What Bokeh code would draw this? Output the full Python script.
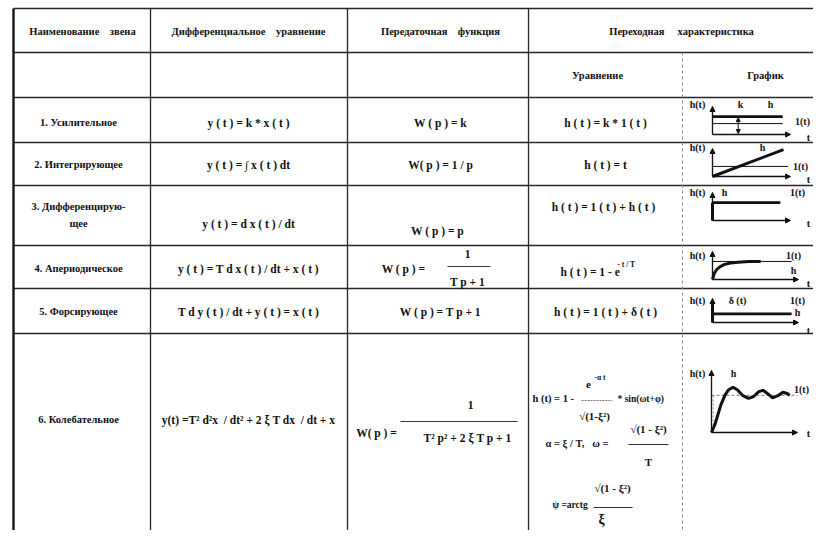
from bokeh.plotting import figure
from bokeh.models import Range1d, Arrow, NormalHead
from bokeh.core.properties import value
from bokeh.embed import file_html
from bokeh.resources import INLINE

NB = "\u00a0"
# ---------------- data (texts and sketch values) ----------------
headers = ["Наименование" + NB * 4 + "звена", "Дифференциальное" + NB * 4 + "уравнение",
           "Передаточная" + NB * 4 + "функция", "Переходная" + NB * 5 + "характеристика"]
subheaders = ["Уравнение", "График"]
link_names = ["1. Усилительное", "2. Интегрирующее", "3. Дифференцирую-", "щее",
              "4. Апериодическое", "5. Форсирующее", "6. Колебательное"]
diff_eqs = ["y ( t ) = k * x ( t )", "y ( t ) = ∫ x ( t ) dt", "y ( t ) = d x ( t ) / dt",
            "y ( t ) = T d x ( t ) / dt + x ( t )", "T d y ( t ) / dt + y ( t ) = x ( t )",
            "y(t) =T² d²x " + NB + "/ dt² + 2 ξ T dx " + NB + "/ dt + x"]
transfer_simple = ["W ( p ) = k", "W( p ) = 1 / p", "W ( p ) = p", "W ( p ) = T p + 1"]
transfer_frac_lhs = ["W ( p ) =", "W( p ) ="]
transfer_frac_num = ["1", "1"]
transfer_frac_den = ["T p + 1", "T² p² + 2 ξ T p + 1"]
step_eqs = ["h ( t ) = k * 1 ( t )", "h ( t ) = t", "h ( t ) = 1 ( t ) + h ( t )",
            "h ( t ) = 1 ( t ) + δ ( t )"]
aper_eq = ["h ( t ) = 1 - e", "- t / T"]
osc_eq = ["e", "-α t", "h (t) = 1 -", "* sin(ωt+φ)", "√(1-ξ²)",
          "α = ξ / T," + NB * 3 + "ω =", "√(1 - ξ²)", "T", "√(1 - ξ²)", "ψ =arctg", "ξ"]

# sketch values (graph units: t along the time axis, h up the axis)
amp_t = [0.0, 0.9];   amp_h = [0.64, 0.64];   amp_one = [0.39, 0.39]
int_t = [0.0, 0.91];  int_h = [0.0, 0.96];    int_one_t = [0.0, 0.97]; int_one = [0.36, 0.36]
dif_t = [0.0, 0.87];  dif_h = [0.64, 0.64];   dif_imp = [0.0, 0.64]
aper_t = [0.0, 0.02, 0.05, 0.09, 0.14, 0.21, 0.30, 0.42, 0.56]
aper_h = [0.0, 0.22, 0.36, 0.46, 0.54, 0.59, 0.62, 0.64, 0.645]
aper_one_t = [0.0, 0.92]; aper_one = [0.645, 0.645]
frc_t = [0.0, 0.92];  frc_h = [0.36, 0.36];   frc_imp = [0.0, 0.78]
osc_t = [0, .04, .075, .11, .16, .2, .25, .3, .36, .43, .49, .55, .6, .65, .71, .78, .83, .88, .91]
osc_h = [0, .13, .29, .45, .61, .69, .73, .69, .6, .55, .58, .66, .68, .63, .56, .6, .65, .63, .6]
osc_one_t = [0.0, 1.0]; osc_one = [0.6, 0.6]

# ---------------- layout ----------------
FONT = value("Liberation Serif")
INK = "#111111"
col_x = [13, 150, 347, 528, 829]
sub_x = 682
row_y = [8, 52, 97, 142, 185, 245, 288, 333, 542]
col_c = [78, 248, 438, 605, 765]

p = figure(width=813, height=530, x_range=Range1d(0, 813), y_range=Range1d(530, 0),
           output_backend="svg", toolbar_location=None, min_border=0,
           x_axis_location=None, y_axis_location=None, outline_line_color=None,
           background_fill_color="white", border_fill_color="white")
p.grid.visible = False


def txt(xs, ys, texts, size="11px", align="center", color=INK):
    p.text(x=xs, y=ys, text=texts, text_font=FONT, text_font_size=size,
           text_font_style="bold", text_align=align, text_baseline="middle",
           text_color=color)


def seg(x0, y0, x1, y1, w=1.0, color="#222222", dash="solid"):
    p.segment(x0=x0, y0=y0, x1=x1, y1=y1, line_width=w, line_color=color, line_dash=dash)


# ---- table grid ----
seg([col_x[0]] * 8, row_y[:-1], [829] * 8, row_y[:-1], w=1.4, color="#262626")
seg([13], [8], [13], [542], w=2.4, color="#161616")
seg(col_x[1:4], [8] * 3, col_x[1:4], [542] * 3, w=1.3, color="#262626")
seg([sub_x], [52], [sub_x], [542], w=1.0, color="#8a8a8a", dash="3 3")

# ---- headers ----
txt([82, 248, 440, 681], [31] * 4, headers, size="10.5px")
txt([597, 765], [75, 75], subheaders, size="10.5px")

# ---- names column ----
txt([col_c[0]] * 7, [122, 164, 206, 223, 268, 311, 419], link_names, size="10.5px")

# ---- differential equations ----
txt([col_c[1]] * 6, [122, 164, 223, 268, 311, 419], diff_eqs, size="11.5px")

# ---- transfer functions ----
txt([440, 440, 437, 440], [122, 164, 230, 311], transfer_simple, size="11.5px")
txt([403, 376], [268, 432], transfer_frac_lhs, size="11.5px")
txt([467, 470], [253, 404], transfer_frac_num, size="11.5px")
txt([467, 467], [281, 437], transfer_frac_den, size="11.5px")
seg([447, 400], [266, 421], [490, 517], [266, 421], w=1.0, color="#333333")

# ---- step response equations ----
txt([605, 605, 603, 605], [122, 164, 206, 311], step_eqs, size="11.5px")
txt([560], [271], [aper_eq[0]], size="11.5px", align="left")
txt([617], [264], [aper_eq[1]], size="7.5px", align="left")
txt([588], [384], [osc_eq[0]], size="11px")
txt([594], [377], [osc_eq[1]], size="7.5px", align="left")
txt([532], [398], [osc_eq[2]], size="10.5px", align="left")
txt([617], [398], [osc_eq[3]], size="9.5px", align="left")
seg([581], [400], [612], [400], w=0.8, color="#555555", dash="2 1")
txt([594], [415], [osc_eq[4]], size="11px")
txt([545], [443], [osc_eq[5]], size="10.5px", align="left")
txt([648], [428], [osc_eq[6]], size="11px")
seg([628], [444], [668], [444], w=1.0, color="#333333")
txt([648], [461], [osc_eq[7]], size="11px")
txt([612], [487], [osc_eq[8]], size="11px")
txt([552], [504], [osc_eq[9]], size="9.5px", align="left")
seg([593], [507], [632], [507], w=1.0, color="#333333")
txt([601], [519], [osc_eq[10]], size="14px")

# ---- step response sketches ----
G = [dict(ox=712, oy=134, L=78, H=28), dict(ox=712, oy=176, L=78, H=28),
     dict(ox=712, oy=220, L=78, H=28), dict(ox=712, oy=279, L=86, H=28),
     dict(ox=712, oy=322, L=86, H=24), dict(ox=711, oy=432, L=86, H=62)]


def gx(g, ts):
    return [g["ox"] + t * g["L"] for t in ts]


def gy(g, hs):
    return [g["oy"] - h * g["H"] for h in hs]


def axes(g):
    for (x1, y1) in [(g["ox"] + g["L"], g["oy"]), (g["ox"], g["oy"] - g["H"])]:
        p.add_layout(Arrow(end=NormalHead(size=5, line_color=INK, fill_color=INK),
                           x_start=g["ox"], y_start=g["oy"], x_end=x1, y_end=y1,
                           line_color=INK, line_width=1.3))


for g in G:
    axes(g)

# 1 amplifying
g = G[0]
p.line(gx(g, amp_t), gy(g, amp_h), line_width=2.6, line_color=INK)
p.line(gx(g, amp_t), gy(g, amp_one), line_width=1.0, line_color=INK)
p.add_layout(Arrow(start=NormalHead(size=4, line_color=INK, fill_color=INK),
                   end=NormalHead(size=4, line_color=INK, fill_color=INK),
                   x_start=gx(g, [0.33])[0], y_start=gy(g, [amp_h[0]])[0] + 1,
                   x_end=gx(g, [0.33])[0], y_end=g["oy"] - 1,
                   line_color=INK, line_width=1.0))
# 2 integrating
g = G[1]
p.line(gx(g, int_one_t), gy(g, int_one), line_width=1.0, line_color=INK)
p.line(gx(g, int_t), gy(g, int_h), line_width=3.0, line_color=INK)
# 3 differentiating
g = G[2]
p.line(gx(g, dif_t), gy(g, dif_h), line_width=2.6, line_color=INK)
p.line(gx(g, [0, 0]), gy(g, dif_imp), line_width=3.0, line_color=INK)
# 4 aperiodic
g = G[3]
p.line(gx(g, aper_one_t), gy(g, aper_one), line_width=1.0, line_color=INK)
p.line(gx(g, aper_t), gy(g, aper_h), line_width=3.0, line_color=INK)
# 5 forcing
g = G[4]
p.line(gx(g, frc_t), gy(g, frc_h), line_width=2.6, line_color=INK)
p.line(gx(g, [0, 0]), gy(g, frc_imp), line_width=3.0, line_color=INK)
# 6 oscillating
g = G[5]
p.line(gx(g, osc_one_t), gy(g, osc_one), line_width=1.0, line_color="#777777", line_dash="3 2")
p.line(gx(g, [0.02, 0.02]), gy(g, [0.05, 0.6]), line_width=1.0, line_color="#999999", line_dash="2 2")
p.line(gx(g, osc_t), gy(g, osc_h), line_width=3.0, line_color=INK)

# sketch labels
lab_x = [697, 740, 770, 802, 808,
         697, 762, 800, 808,
         697, 724, 797, 808,
         697, 793, 793, 808,
         697, 737, 797, 797, 808,
         697, 733, 801, 808]
lab_y = [104, 104, 104, 121, 137,
         147, 147, 166, 179,
         192, 192, 192, 223,
         255, 255, 270, 283,
         300, 300, 300, 312, 330,
         373, 373, 389, 433]
lab_t = ["h(t)", "k", "h", "1(t)", "t",
         "h(t)", "h", "1(t)", "t",
         "h(t)", "h", "1(t)", "t",
         "h(t)", "1(t)", "h", "t",
         "h(t)", "δ (t)", "1(t)", "h", "t",
         "h(t)", "h", "1(t)", "t"]
txt(lab_x, lab_y, lab_t, size="10px")

open("out.html", "w").write(file_html(p, INLINE))
